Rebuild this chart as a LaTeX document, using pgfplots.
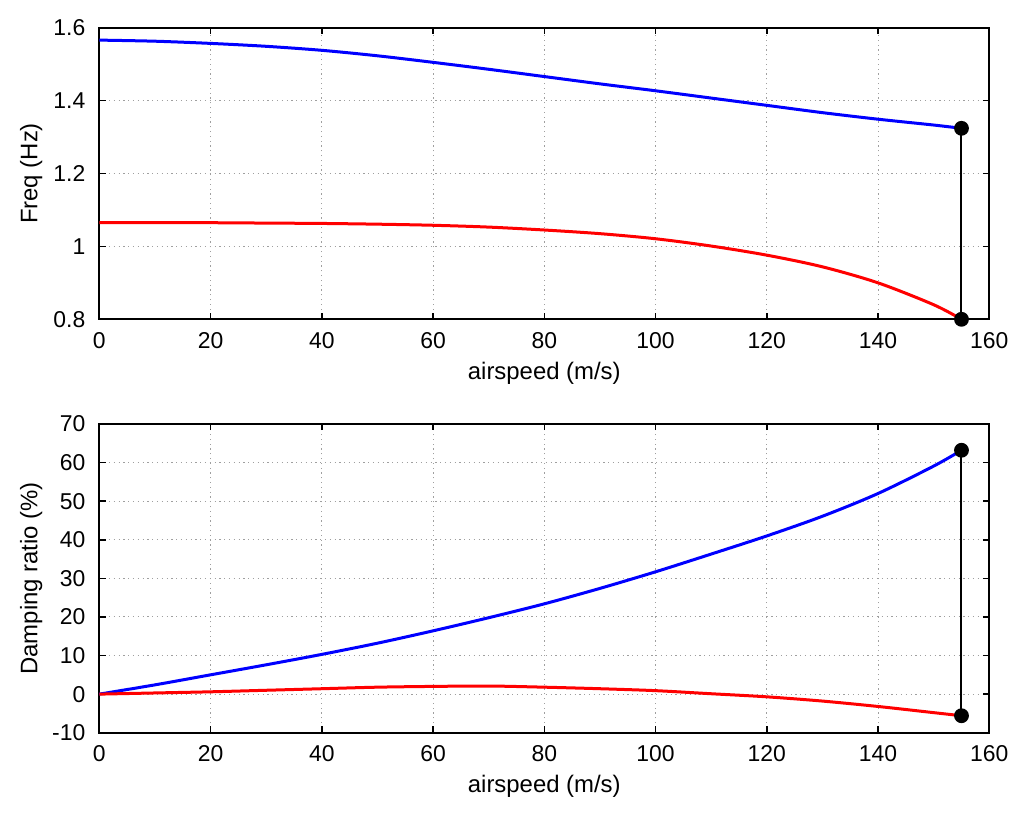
\documentclass[border=0pt]{standalone}
\usepackage{fontspec}
\setmainfont{Liberation Sans}
\usepackage{pgfplots}
\pgfplotsset{compat=1.18}
\pgfplotsset{
  myaxis/.style={
    scale only axis,
    width=445bp,
    xmin=0, xmax=160,
    xtick={0,20,...,160},
    grid=major,
    grid style={gray!75, line width=0.5bp, dash pattern=on 0.6bp off 1.8bp},
    tick align=inside,
    major tick length=3.2bp,
    axis line style={line width=0.9bp},
    every tick/.style={black, line width=0.8bp},
    tick label style={font=\fontsize{11.5}{13}\selectfont},
    label style={font=\fontsize{12}{14}\selectfont},
    /pgf/number format/assume math mode=true,
    xticklabel style={yshift=-3bp},
    yticklabel style={xshift=-3.5bp},
    xlabel={airspeed (m/s)},
    xlabel style={at={(axis description cs:0.5,0)}, anchor=center, yshift=-27bp},
    ylabel style={at={(axis description cs:0,0.5)}, anchor=center, rotate=0, yshift=34bp},
    clip=false,
  },
}
\begin{document}
\begin{tikzpicture}
\useasboundingbox (0,0) rectangle (514bp,-407.5bp);
\begin{axis}[myaxis,
  at={(49.65bp,-159.65bp)}, anchor=south west,
  height=145.8bp,
  ymin=0.8, ymax=1.6,
  ytick={0.8,1,1.2,1.4,1.6},
  ylabel={Freq (Hz)},
]
\addplot[blue, line width=1.5bp, smooth] coordinates {
(0,1.566) (10,1.563) (20,1.557) (30,1.549) (40,1.538) (50,1.523) (60,1.505) (70,1.486) (80,1.466) (90,1.446) (100,1.427) (110,1.407) (120,1.387) (130,1.367) (140,1.349) (150,1.333) (155,1.324)};
\addplot[red, line width=1.5bp, smooth] coordinates {
(0,1.065) (10,1.065) (20,1.065) (30,1.064) (40,1.063) (50,1.061) (60,1.058) (70,1.053) (80,1.045) (90,1.035) (100,1.021) (110,1.001) (120,0.976) (130,0.944) (140,0.900) (150,0.840) (155,0.800)};
\addplot[black, line width=1bp, mark=*, mark size=3.2bp, mark options={solid, fill=black}] coordinates {(155,1.324) (155,0.800)};
\end{axis}
\begin{axis}[myaxis,
  at={(49.65bp,-366.35bp)}, anchor=south west,
  height=154.35bp,
  ymin=-10, ymax=70,
  ytick={-10,0,...,70},
  ylabel={Damping ratio (\%)},
]
\addplot[blue, line width=1.5bp, smooth] coordinates {
(0,0) (10,2.4) (20,5.0) (30,7.6) (40,10.3) (50,13.2) (60,16.4) (70,19.8) (80,23.4) (90,27.4) (100,31.7) (110,36.3) (120,41.0) (130,46.1) (140,52.0) (150,59.1) (155,63.2)};
\addplot[red, line width=1.5bp, smooth] coordinates {
(0,0) (10,0.3) (20,0.6) (30,1.0) (40,1.4) (50,1.8) (60,2.0) (70,2.1) (80,1.8) (90,1.4) (100,0.9) (110,0.1) (120,-0.7) (130,-1.8) (140,-3.2) (150,-4.8) (155,-5.6)};
\addplot[black, line width=1bp, mark=*, mark size=3.2bp, mark options={solid, fill=black}] coordinates {(155,63.2) (155,-5.6)};
\end{axis}
\end{tikzpicture}
\end{document}
